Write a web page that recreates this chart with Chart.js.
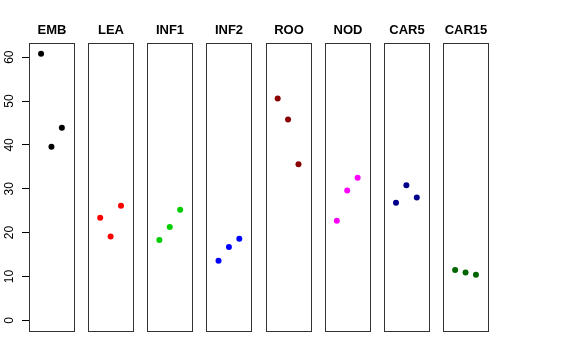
<!DOCTYPE html>
<html>
<head>
<meta charset="utf-8">
<script src="https://cdn.jsdelivr.net/npm/chart.js@4"></script>
<style>
  html, body { margin: 0; padding: 0; background: #fff; }
  #wrap { width: 576px; height: 360px; }
</style>
</head>
<body>
<div id="wrap"><canvas id="strip"></canvas></div>
<script>
  "use strict";

  // panels and their values (3 per panel)
  var groups = ["EMB", "LEA", "INF1", "INF2", "ROO", "NOD", "CAR5", "CAR15"];
  var colors = ["#000000", "#FF0000", "#00CD00", "#0000FF", "#8B0000", "#FF00FF", "#00008B", "#006400"];
  var EMB = [60.8, 39.6, 43.9];
  var LEA = [23.4, 19.1, 26.1];
  var INF1 = [18.3, 21.3, 25.2];
  var INF2 = [13.6, 16.7, 18.6];
  var ROO = [50.6, 45.8, 35.6];
  var NOD = [22.7, 29.6, 32.5];
  var CAR5 = [26.8, 30.8, 28.0];
  var CAR15 = [11.5, 10.9, 10.4];
  var yTicks = [0, 10, 20, 30, 40, 50, 60];

  var values = [EMB, LEA, INF1, INF2, ROO, NOD, CAR5, CAR15];

  // each panel spans x -0.16..4.16 in its own units, panels shifted by step
  var panelLo = -0.16, panelHi = 4.16, step = 5.69;

  var datasets = groups.map(function(g, i) {
    return {
      label: g,
      data: values[i].map(function(v, j) {
        return { x: i * step + j + 1, y: v };
      }),
      backgroundColor: colors[i],
      borderWidth: 0,
      pointRadius: 3,
      pointHoverRadius: 3
    };
  });

  var panels = {
    id: "panels",
    afterDraw: function(chart) {
      var ctx = chart.ctx, xs = chart.scales.x, a = chart.chartArea;
      ctx.save();
      ctx.strokeStyle = "#333";
      ctx.lineWidth = 1;
      ctx.fillStyle = "#000";
      ctx.font = "bold 13px 'Liberation Sans', Arial, sans-serif";
      ctx.textAlign = "center";
      ctx.textBaseline = "middle";
      groups.forEach(function(g, i) {
        var l = Math.round(xs.getPixelForValue(i * step + panelLo)) + 0.5;
        var r = Math.round(xs.getPixelForValue(i * step + panelHi)) + 0.5;
        ctx.strokeRect(l, Math.round(a.top) + 0.5, r - l, Math.round(a.bottom - a.top));
        ctx.fillText(g, (l + r) / 2, 30);
      });
      ctx.restore();
    }
  };

  new Chart(document.getElementById("strip"), {
    type: "scatter",
    data: { datasets: datasets },
    plugins: [panels],
    options: {
      responsive: true,
      maintainAspectRatio: false,
      animation: false,
      layout: { padding: { top: 43, right: 88, bottom: 29, left: 0 } },
      plugins: {
        legend: { display: false },
        tooltip: { enabled: false }
      },
      scales: {
        x: {
          type: "linear",
          display: false,
          min: panelLo,
          max: 7 * step + panelHi
        },
        y: {
          type: "linear",
          min: -2.43,
          max: 63.23,
          afterBuildTicks: function(s) {
            s.ticks = yTicks.map(function(v) { return { value: v }; });
          },
          afterFit: function(s) { s.width = 29; },
          border: { display: false },
          grid: {
            drawOnChartArea: false,
            tickLength: 7,
            color: "#000"
          },
          ticks: {
            minRotation: 90,
            maxRotation: 90,
            crossAlign: "center",
            padding: 6,
            color: "#000",
            font: { family: "'Liberation Sans', Arial, sans-serif", size: 12 }
          }
        }
      }
    }
  });
</script>
</body>
</html>
